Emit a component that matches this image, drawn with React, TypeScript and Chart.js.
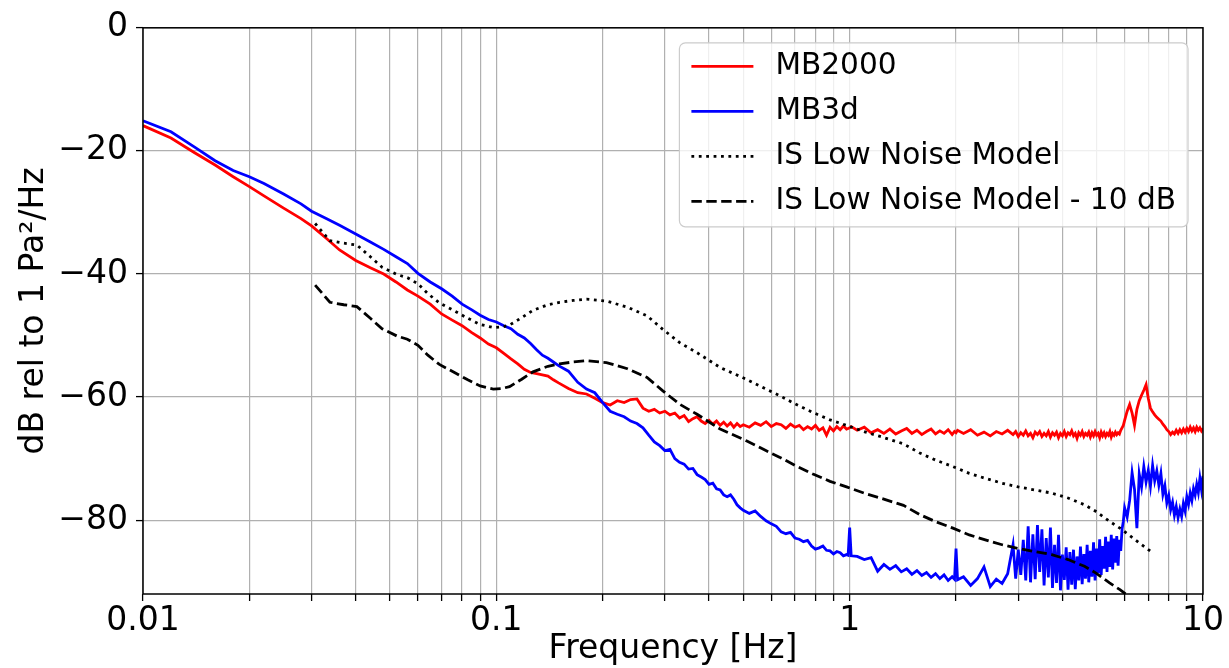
import React, { useEffect, useRef } from "react";
import { Chart, registerables } from "chart.js";

Chart.register(...registerables);

const FONT = "'DejaVu Sans', 'Liberation Sans', sans-serif";

const SERIES_NAMES = ["MB2000", "MB3d", "IS Low Noise Model", "IS Low Noise Model - 10 dB"];
const X_TITLE = "Frequency [Hz]";
const Y_TITLE = "dB rel to 1 Pa²/Hz";

const X_TICKS = [
  0.01, 0.02, 0.03, 0.04, 0.05, 0.06, 0.07, 0.08, 0.09,
  0.1, 0.2, 0.3, 0.4, 0.5, 0.6, 0.7, 0.8, 0.9,
  1, 2, 3, 4, 5, 6, 7, 8, 9, 10,
];
const X_MAJOR = [0.01, 0.1, 1, 10];
const X_MAJOR_LABELS = ["0.01", "0.1", "1", "10"];
const Y_TICKS = [0, -20, -40, -60, -80];
const Y_TICK_LABELS = ["0", "\u221220", "\u221240", "\u221260", "\u221280"];

// Measured spectra (shared frequency segments)
const FREQ_A = [0.01, 0.012, 0.014, 0.016, 0.018, 0.02, 0.022, 0.025, 0.028, 0.03, 0.033, 0.036, 0.04, 0.044, 0.048, 0.052, 0.056, 0.06, 0.065, 0.07, 0.075, 0.08, 0.085, 0.09, 0.095, 0.1, 0.105, 0.11, 0.115, 0.12, 0.125, 0.13, 0.135, 0.14, 0.145, 0.15, 0.16, 0.17, 0.18, 0.19];
const RED_A = [-15.9, -17.9, -20.3, -22.3, -24.2, -25.8, -27.3, -29.3, -31.0, -32.2, -34.2, -36.1, -37.8, -39.0, -40.0, -41.3, -42.6, -43.6, -44.9, -46.5, -47.5, -48.4, -49.5, -50.4, -51.4, -52.0, -52.9, -53.8, -54.6, -55.5, -56.0, -56.2, -56.4, -56.6, -57.2, -57.7, -58.6, -59.3, -59.5, -60.2];
const BLUE_A = [-15.1, -16.9, -19.4, -21.6, -23.2, -24.2, -25.3, -27.0, -28.6, -29.8, -31.0, -32.1, -33.5, -34.8, -36.0, -37.2, -38.3, -39.9, -41.3, -42.4, -43.6, -44.9, -45.8, -46.7, -47.4, -47.8, -48.4, -48.9, -49.8, -50.4, -51.3, -52.3, -53.2, -53.7, -54.3, -54.9, -55.8, -57.6, -58.7, -59.3];

const FREQ_B = [0.2, 0.21, 0.22, 0.23, 0.24, 0.25, 0.26, 0.27, 0.28, 0.29, 0.3, 0.31, 0.32, 0.33, 0.34, 0.35, 0.36, 0.37, 0.38, 0.39, 0.4, 0.41, 0.42, 0.43, 0.44, 0.45, 0.46, 0.47, 0.48, 0.49, 0.5];
const RED_B = [-60.9, -61.3, -60.6, -60.9, -60.4, -60.3, -61.8, -62.3, -62.0, -62.6, -62.3, -62.9, -62.6, -63.4, -63.0, -64.0, -63.5, -63.2, -63.9, -64.3, -63.8, -64.4, -63.9, -64.6, -64.1, -64.7, -64.2, -64.9, -64.3, -64.8, -64.5];
const BLUE_B = [-60.9, -62.3, -62.8, -63.2, -63.9, -64.3, -65.0, -66.2, -67.3, -67.9, -68.7, -68.5, -70.0, -70.6, -70.9, -71.7, -71.6, -72.6, -73.0, -73.4, -74.2, -74.0, -74.9, -75.1, -75.9, -76.2, -75.9, -76.6, -77.5, -78.0, -78.4];

const FREQ_C = [0.52, 0.54, 0.56, 0.58, 0.6, 0.62, 0.64, 0.66, 0.68, 0.7, 0.72, 0.74, 0.76, 0.78, 0.8, 0.82, 0.84, 0.86, 0.88, 0.9, 0.92, 0.94, 0.96, 0.98, 0.99, 1.0, 1.01];
const RED_C = [-64.9, -64.2, -64.6, -64.0, -64.8, -64.3, -64.5, -65.1, -64.4, -64.9, -64.6, -65.3, -64.8, -65.2, -64.6, -65.4, -65.0, -66.2, -64.9, -65.5, -64.8, -65.3, -64.7, -65.2, -65.1, -65.0, -64.8];
const BLUE_C = [-78.9, -78.5, -79.4, -80.1, -80.6, -81.0, -81.9, -82.2, -82.0, -82.9, -83.1, -83.5, -83.3, -84.2, -84.7, -84.5, -84.2, -84.9, -85.0, -85.5, -85.1, -85.3, -85.8, -85.6, -85.7, -81.2, -85.8];

const FREQ_D = [1.05, 1.1, 1.15, 1.2, 1.25, 1.3, 1.35, 1.4, 1.45, 1.5, 1.55, 1.6, 1.65, 1.7, 1.75, 1.8, 1.85, 1.9, 1.95, 1.98, 2.0, 2.02];
const RED_D = [-65.4, -64.9, -65.8, -65.3, -65.9, -65.2, -66.0, -65.5, -65.1, -65.9, -65.4, -66.1, -65.6, -65.2, -66.0, -65.5, -65.9, -65.3, -66.1, -65.6, -65.8, -65.4];
const BLUE_D = [-85.9, -86.4, -86.1, -88.3, -87.2, -88.0, -87.4, -88.4, -87.9, -88.8, -88.2, -89.0, -88.5, -89.3, -88.7, -89.5, -88.9, -89.8, -89.2, -89.6, -84.6, -89.7];

const FREQ_E = [2.1, 2.2, 2.3, 2.4, 2.5, 2.6, 2.7, 2.8, 2.9, 2.95, 3.0, 3.05, 3.1, 3.15, 3.2, 3.25, 3.3, 3.35, 3.4, 3.45, 3.5, 3.55, 3.6, 3.65, 3.7, 3.75, 3.8, 3.85, 3.9, 3.95, 4.0, 4.05, 4.1, 4.15, 4.2, 4.25, 4.3, 4.35, 4.4, 4.45, 4.5, 4.55, 4.6, 4.65, 4.7, 4.75, 4.8, 4.85, 4.9, 4.95, 5.0, 5.05, 5.1, 5.15, 5.2, 5.25, 5.3, 5.35, 5.4, 5.45, 5.5, 5.55, 5.6, 5.65, 5.7, 5.75, 5.8, 5.85, 5.9, 5.95, 6.0];
const RED_E = [-65.9, -65.3, -66.2, -65.7, -66.3, -65.6, -66.0, -65.4, -66.1, -65.6, -66.4, -65.8, -66.2, -65.5, -66.3, -65.9, -66.6, -65.7, -66.1, -65.6, -66.4, -65.9, -66.3, -65.6, -66.5, -65.8, -66.2, -65.7, -66.6, -65.9, -66.3, -65.6, -66.4, -65.8, -66.1, -65.5, -66.3, -65.9, -66.7, -65.8, -66.2, -65.6, -66.4, -65.9, -66.2, -65.7, -66.5, -65.8, -66.3, -65.6, -66.2, -65.9, -66.6, -65.7, -66.3, -65.8, -66.4, -65.9, -66.2, -65.6, -66.5, -65.9, -66.2, -65.7, -66.1, -65.8, -66.0, -65.4, -65.0, -64.6, -63.8];
const BLUE_E = [-89.2, -90.6, -89.5, -87.6, -90.8, -89.6, -90.3, -88.7, -84.0, -89.5, -84.8, -88.9, -83.2, -89.8, -81.0, -90.1, -82.3, -89.6, -80.8, -88.4, -81.5, -90.6, -82.9, -89.3, -81.2, -91.0, -84.0, -90.2, -82.4, -91.4, -85.6, -89.7, -84.4, -91.3, -85.2, -90.5, -84.8, -91.2, -85.9, -89.8, -84.3, -90.4, -85.5, -89.5, -84.0, -90.1, -85.0, -89.2, -83.6, -89.8, -84.6, -88.6, -83.1, -88.9, -84.2, -87.9, -82.7, -88.4, -83.5, -87.6, -82.4, -88.0, -83.0, -86.9, -82.6, -87.4, -83.2, -85.0, -81.5, -80.2, -78.0];

const FREQ_F = [6.1, 6.2, 6.3, 6.4, 6.5, 6.6, 6.7, 6.8, 6.9, 7.0, 7.1, 7.2, 7.3, 7.4, 7.5, 7.6, 7.7, 7.8, 7.9, 8.0, 8.1, 8.2, 8.3, 8.4, 8.5, 8.6, 8.7, 8.8, 8.9, 9.0, 9.1, 9.2, 9.3, 9.4, 9.5, 9.6, 9.7, 9.8, 9.9, 10.0];
const RED_F = [-62.3, -61.2, -62.6, -64.6, -62.0, -60.6, -59.7, -58.9, -58.0, -60.2, -61.8, -62.4, -62.9, -63.3, -63.6, -63.9, -64.4, -64.8, -65.3, -65.6, -66.1, -65.7, -66.0, -65.4, -65.9, -65.3, -65.8, -65.2, -65.7, -65.1, -65.6, -64.9, -65.5, -65.0, -65.6, -64.9, -65.4, -65.0, -65.5, -65.1];
const BLUE_F = [-79.5, -76.8, -72.3, -75.0, -81.3, -72.5, -74.6, -71.3, -73.8, -71.9, -74.5, -71.1, -73.6, -72.0, -74.3, -72.4, -75.8, -74.4, -77.2, -76.0, -78.3, -77.1, -79.2, -77.8, -79.6, -78.2, -79.4, -77.3, -78.5, -76.2, -77.4, -75.6, -76.8, -74.9, -75.9, -74.2, -75.5, -73.2, -75.0, -72.8];

// IS low noise model
const LNM_FREQ = [0.0307, 0.0338, 0.037, 0.0403, 0.044, 0.0475, 0.0524, 0.056, 0.06, 0.064, 0.069, 0.075, 0.083, 0.09, 0.098, 0.104, 0.109, 0.118, 0.127, 0.14, 0.151, 0.165, 0.18, 0.205, 0.235, 0.267, 0.296, 0.331, 0.37, 0.43, 0.51, 0.57, 0.635, 0.7, 0.787, 0.88, 0.98, 1.11, 1.22, 1.42, 1.58, 1.76, 1.96, 2.18, 2.42, 2.7, 3.0, 3.34, 3.73, 4.15, 4.62, 4.98, 5.44, 5.82, 6.5, 7.2];
const LNM_DB = [-31.8, -34.6, -35.0, -35.3, -37.2, -38.9, -40.1, -40.6, -41.6, -43.2, -44.7, -45.8, -47.2, -48.2, -48.7, -48.6, -48.3, -47.1, -45.9, -45.0, -44.6, -44.3, -44.1, -44.4, -45.4, -46.8, -49.0, -51.2, -52.8, -55.2, -57.1, -58.5, -59.8, -61.1, -62.5, -63.7, -64.6, -65.7, -66.4, -67.6, -69.1, -70.3, -71.3, -72.4, -73.2, -74.0, -74.6, -75.1, -75.6, -76.4, -77.5, -78.6, -80.2, -81.3, -83.4, -85.3];
const LNM_MINUS10_DB = [-41.8, -44.6, -45.0, -45.3, -47.2, -48.9, -50.1, -50.6, -51.6, -53.2, -54.7, -55.8, -57.2, -58.2, -58.7, -58.6, -58.3, -57.1, -55.9, -55.0, -54.6, -54.3, -54.1, -54.4, -55.4, -56.8, -59.0, -61.2, -62.8, -65.2, -67.1, -68.5, -69.8, -71.1, -72.5, -73.7, -74.6, -75.7, -76.4, -77.6, -79.1, -80.3, -81.3, -82.4, -83.2, -84.0, -84.6, -85.1, -85.6, -86.4, -87.5, -88.6, -90.2, -91.3, -93.4, -95.3];

const MEAS_FREQ = [...FREQ_A, ...FREQ_B, ...FREQ_C, ...FREQ_D, ...FREQ_E, ...FREQ_F];
const RED_DB = [...RED_A, ...RED_B, ...RED_C, ...RED_D, ...RED_E, ...RED_F];
const BLUE_DB = [...BLUE_A, ...BLUE_B, ...BLUE_C, ...BLUE_D, ...BLUE_E, ...BLUE_F];

function toPoints(fs: number[], vs: number[]) {
  const n = Math.min(fs.length, vs.length);
  const out: { x: number; y: number }[] = [];
  for (let i = 0; i < n; i++) out.push({ x: fs[i], y: vs[i] });
  return out;
}

const LINE_W = 2.8;

const framePlugin = {
  id: "frame",
  afterDatasetsDraw(chart: any) {
    const { ctx, chartArea } = chart;
    const { left, top, right, bottom } = chartArea;
    ctx.save();
    ctx.strokeStyle = "#000";
    ctx.lineWidth = 1.5;
    ctx.strokeRect(left, top, right - left, bottom - top);
    ctx.restore();
  },
};

function roundRectPath(ctx: CanvasRenderingContext2D, x: number, y: number, w: number, h: number, r: number) {
  ctx.beginPath();
  ctx.moveTo(x + r, y);
  ctx.lineTo(x + w - r, y);
  ctx.arcTo(x + w, y, x + w, y + r, r);
  ctx.lineTo(x + w, y + h - r);
  ctx.arcTo(x + w, y + h, x + w - r, y + h, r);
  ctx.lineTo(x + r, y + h);
  ctx.arcTo(x, y + h, x, y + h - r, r);
  ctx.lineTo(x, y + r);
  ctx.arcTo(x, y, x + r, y, r);
  ctx.closePath();
}

const legendPlugin = {
  id: "innerLegend",
  afterDraw(chart: any) {
    const { ctx, chartArea } = chart;
    const fontSize = 29.6;
    ctx.save();
    ctx.font = `${fontSize}px ${FONT}`;
    const items = chart.data.datasets.map((d: any) => ({
      label: d.label as string,
      color: d.borderColor as string,
      dash: (d.borderDash || []) as number[],
      width: d.borderWidth as number,
    }));
    const textW = Math.max(...items.map((it: any) => ctx.measureText(it.label).width));
    const padL = 12, handleLen = 62, gap = 22, padR = 12, rowH = 45;
    const w = padL + handleLen + gap + textW + padR;
    const h = rowH * items.length + 4;
    const x0 = chartArea.right - 15 - w;
    const y0 = chartArea.top + 15;
    roundRectPath(ctx, x0, y0, w, h, 6);
    ctx.fillStyle = "rgba(255,255,255,0.8)";
    ctx.fill();
    ctx.strokeStyle = "#cccccc";
    ctx.lineWidth = 1.2;
    ctx.stroke();
    items.forEach((it: any, i: number) => {
      const cy = y0 + 1 + rowH * (i + 0.5);
      ctx.beginPath();
      ctx.setLineDash(it.dash);
      ctx.strokeStyle = it.color;
      ctx.lineWidth = it.width;
      ctx.moveTo(x0 + padL, cy);
      ctx.lineTo(x0 + padL + handleLen, cy);
      ctx.stroke();
      ctx.setLineDash([]);
      ctx.fillStyle = "#000";
      ctx.textBaseline = "middle";
      ctx.textAlign = "left";
      ctx.fillText(it.label, x0 + padL + handleLen + gap, cy);
    });
    ctx.restore();
  },
};

export default function App() {
  const ref = useRef<HTMLCanvasElement>(null);

  useEffect(() => {
    document.body.style.margin = "0";
    const canvas = ref.current;
    if (!canvas) return;
    const tickFont = { family: FONT, size: 33, lineHeight: 1.2 };
    const gridOpts = {
      color: "#b0b0b0",
      lineWidth: 1.2,
      tickColor: "#000",
      tickLength: 7,
      tickWidth: 1.3,
      drawTicks: true,
    };
    const chart = new Chart(canvas, {
      type: "scatter",
      data: {
        datasets: [
          {
            label: SERIES_NAMES[0],
            data: toPoints(MEAS_FREQ, RED_DB),
            borderColor: "#ff0000",
            backgroundColor: "#ff0000",
            borderWidth: LINE_W,
            showLine: true,
            pointRadius: 0,
            order: 4,
            clip: 0,
          },
          {
            label: SERIES_NAMES[1],
            data: toPoints(MEAS_FREQ, BLUE_DB),
            borderColor: "#0000ff",
            backgroundColor: "#0000ff",
            borderWidth: LINE_W,
            showLine: true,
            pointRadius: 0,
            order: 3,
            clip: 0,
          },
          {
            label: SERIES_NAMES[2],
            data: toPoints(LNM_FREQ, LNM_DB),
            borderColor: "#000000",
            backgroundColor: "#000000",
            borderWidth: LINE_W,
            borderDash: [2.8, 4.6],
            showLine: true,
            pointRadius: 0,
            order: 2,
            clip: 0,
          },
          {
            label: SERIES_NAMES[3],
            data: toPoints(LNM_FREQ, LNM_MINUS10_DB),
            borderColor: "#000000",
            backgroundColor: "#000000",
            borderWidth: LINE_W,
            borderDash: [10.4, 4.5],
            showLine: true,
            pointRadius: 0,
            order: 1,
            clip: 0,
          },
        ],
      },
      options: {
        animation: false,
        responsive: false,
        maintainAspectRatio: false,
        layout: { padding: { top: 23, right: 26, left: 0, bottom: 0 } },
        plugins: {
          legend: { display: false },
          tooltip: { enabled: false },
        },
        elements: { point: { radius: 0 }, line: { tension: 0 } },
        scales: {
          x: {
            type: "logarithmic",
            min: 0.01,
            max: 10,
            afterBuildTicks: (s: any) => {
              s.ticks = X_TICKS.map((v) => ({ value: v }));
            },
            afterFit: (s: any) => {
              s.height = 74;
            },
            ticks: {
              autoSkip: false,
              maxRotation: 0,
              minRotation: 0,
              padding: 1,
              color: "#000",
              font: tickFont,
              callback: (v: any) => {
                const i = X_MAJOR.findIndex((m) => Math.abs(m - Number(v)) / m < 1e-6);
                return i >= 0 ? X_MAJOR_LABELS[i] : "";
              },
            },
            grid: gridOpts,
            border: { display: false },
            title: {
              display: true,
              text: X_TITLE,
              color: "#000",
              font: { family: FONT, size: 33, lineHeight: 1.12 },
              padding: 0,
            },
          },
          y: {
            type: "linear",
            min: -92,
            max: 0,
            afterBuildTicks: (s: any) => {
              s.ticks = Y_TICKS.map((v) => ({ value: v }));
            },
            afterFit: (s: any) => {
              s.width = 143;
            },
            ticks: {
              padding: 8,
              color: "#000",
              font: tickFont,
              callback: (v: any) => {
                const i = Y_TICKS.indexOf(Number(v));
                return i >= 0 ? Y_TICK_LABELS[i] : "";
              },
            },
            grid: gridOpts,
            border: { display: false },
            title: {
              display: true,
              text: Y_TITLE,
              color: "#000",
              font: { family: FONT, size: 33, lineHeight: 1.2 },
              padding: { top: 15, bottom: 0 },
            },
          },
        },
      } as any,
      plugins: [framePlugin, legendPlugin],
    } as any);
    return () => chart.destroy();
  }, []);

  return (
    <canvas
      ref={ref}
      width={1229}
      height={668}
      style={{ display: "block", width: "1229px", height: "668px" }}
    />
  );
}
